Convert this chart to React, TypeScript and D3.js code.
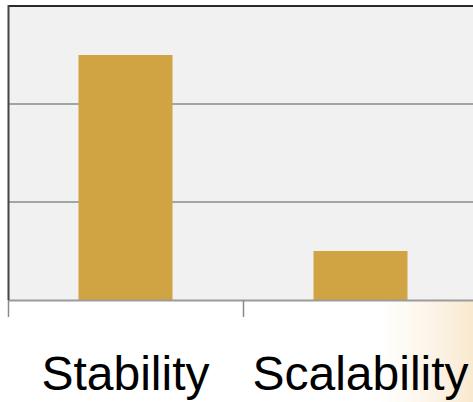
import React from "react";
import * as d3 from "d3";

const categories = ["Stability", "Scalability"];
const values = [2.5, 0.5];
const yTicks = [0, 1, 2, 3];

export default function App() {
  const W = 473;
  const H = 402;
  const x = d3.scaleBand<string>().domain(categories).range([8, 478]).paddingInner(0).paddingOuter(0);
  const y = d3.scaleLinear().domain([0, 3]).range([300, 6]);
  const bw = x.bandwidth() * 0.4;
  const boundaries = categories.map((c) => x(c) as number);
  return (
    <svg width={W} height={H} style={{ position: "absolute", left: 0, top: 0 }}>
      <defs>
        <linearGradient id="glow" x1="0" y1="0" x2="1" y2="0">
          <stop offset="0" stopColor="#fbeedb" stopOpacity="0" />
          <stop offset="1" stopColor="#f9e9d0" stopOpacity="1" />
        </linearGradient>
      </defs>
      <rect x={0} y={0} width={W} height={H} fill="#ffffff" />
      <rect x={378} y={301} width={W - 378} height={H - 301} fill="url(#glow)" />
      {/* plot background */}
      <rect x={9} y={y(3)} width={W - 9} height={y(0) - y(3)} fill="#f0f1f0" />
      {/* gridlines */}
      {yTicks.filter((t) => t > 0 && t < 3).map((t) => (
        <line key={t} x1={9} x2={W} y1={y(t)} y2={y(t)} stroke="#a3a5a4" strokeWidth={2} />
      ))}
      {/* bars */}
      {categories.map((c, i) => (
        <rect
          key={c}
          x={(x(c) as number) + (x.bandwidth() - bw) / 2}
          y={y(values[i])}
          width={bw}
          height={y(0) - y(values[i])}
          fill="#d1a443"
        />
      ))}
      {/* axis line */}
      <line x1={8} x2={W} y1={y(0) + 0.5} y2={y(0) + 0.5} stroke="#9a9b9a" strokeWidth={2} />
      {/* ticks */}
      {boundaries.map((b, i) => (
        <line key={i} x1={b + 0.5} x2={b + 0.5} y1={y(0)} y2={317} stroke="#8a8a8a" strokeWidth={1.5} />
      ))}
      {/* top border */}
      <line x1={8} x2={W} y1={y(3)} y2={y(3)} stroke="#2a2a2a" strokeWidth={2} />
      {/* left border */}
      <line x1={8.5} x2={8.5} y1={y(3) - 1} y2={y(0)} stroke="#454545" strokeWidth={2} />
      {/* labels */}
      {categories.map((c) => (
        <text
          key={c}
          x={(x(c) as number) + x.bandwidth() / 2}
          y={390}
          textAnchor="middle"
          fontFamily="'Liberation Sans', Arial, sans-serif"
          fontSize={48}
          fill="#000"
        >
          {c}
        </text>
      ))}
    </svg>
  );
}
